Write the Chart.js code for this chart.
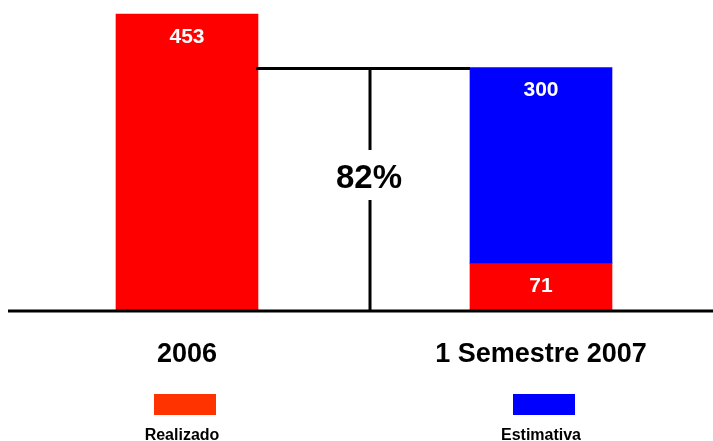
<!DOCTYPE html>
<html>
<head>
<meta charset="utf-8">
<script src="https://cdn.jsdelivr.net/npm/chart.js@4.4.1/dist/chart.umd.min.js"></script>
<style>
  body { margin: 0; background: #ffffff; }
  #chart { display: block; }
</style>
</head>
<body>
<canvas id="chart" width="713" height="441"></canvas>
<script>
// chart data
const categories = ['2006', '1 Semestre 2007'];
const seriesNames = ['Realizado', 'Estimativa'];
const realizado = [453, 71];
const estimativa = [null, 300];

const barColors = ['#ff0000', '#0000ff'];
const legendColors = ['#ff3300', '#0000ff'];
const fontFamily = '"Liberation Sans", Arial, sans-serif';

// total of the second period, compared with the first
const total2007 = realizado[1] + estimativa[1];
const pctText = Math.round(total2007 / realizado[0] * 100) + '%';

function toPoints(values) {
    return values.map((v, i) => ({ x: i, y: v }));
}

// Draws baseline, values, category names, the comparison bracket and legend
const decorPlugin = {
    id: 'decor',
    afterDatasetsDraw(chart) {
        const ctx = chart.ctx;
        const xs = chart.scales.x;
        const ys = chart.scales.y;
        const y0 = ys.getPixelForValue(0);

        ctx.save();

        // baseline
        ctx.strokeStyle = '#000000';
        ctx.lineWidth = 3;
        ctx.beginPath();
        ctx.moveTo(8, y0 + 1);
        ctx.lineTo(chart.width, y0 + 1);
        ctx.stroke();

        // value labels inside bars
        ctx.fillStyle = '#ffffff';
        ctx.font = 'bold 21px ' + fontFamily;
        ctx.textAlign = 'center';
        ctx.textBaseline = 'middle';
        chart.data.datasets.forEach((ds, di) => {
            const meta = chart.getDatasetMeta(di);
            meta.data.forEach((bar, i) => {
                const v = ds.data[i].y;
                if (v == null) return;
                ctx.fillText(String(v), bar.x, bar.y + 23);
            });
        });

        // category names
        ctx.fillStyle = '#000000';
        ctx.font = 'bold 27px ' + fontFamily;
        categories.forEach((c, i) => {
            ctx.fillText(c, xs.getPixelForValue(i), 355);
        });

        // comparison bracket
        const bar1 = chart.getDatasetMeta(0).data[0];
        const bar2 = chart.getDatasetMeta(0).data[1];
        const yTop = ys.getPixelForValue(total2007);
        const xLeft = bar1.x + bar1.width / 2 - 2;
        const xRight = bar2.x - bar2.width / 2;
        const xMid = xs.getPixelForValue(0.517);
        const textY = 179;
        ctx.lineWidth = 3;
        ctx.beginPath();
        ctx.moveTo(xLeft, yTop + 1);
        ctx.lineTo(xRight, yTop + 1);
        ctx.moveTo(xMid, yTop);
        ctx.lineTo(xMid, 150);
        ctx.moveTo(xMid, 200);
        ctx.lineTo(xMid, y0 + 1);
        ctx.stroke();

        ctx.font = 'bold 33px ' + fontFamily;
        ctx.fillText(pctText, xMid - 1, textY);

        // legend
        const legendX = [185, 544];
        ctx.font = 'bold 16px ' + fontFamily;
        ctx.textBaseline = 'alphabetic';
        seriesNames.forEach((name, i) => {
            ctx.fillStyle = legendColors[i];
            ctx.fillRect(legendX[i] - 31, 394, 62, 21);
            ctx.fillStyle = '#000000';
            ctx.fillText(name, legendX[i] - 3, 440);
        });

        ctx.restore();
    }
};

new Chart(document.getElementById('chart'), {
    type: 'bar',
    data: {
        datasets: [
            {
                label: seriesNames[0],
                data: toPoints(realizado),
                backgroundColor: barColors[0],
                borderWidth: 0,
                barThickness: 142
            },
            {
                label: seriesNames[1],
                data: toPoints(estimativa),
                backgroundColor: barColors[1],
                borderWidth: 0,
                barThickness: 142
            }
        ]
    },
    options: {
        responsive: false,
        animation: false,
        layout: {
            padding: { left: 8, right: 0, top: 0, bottom: 131 }
        },
        scales: {
            x: {
                type: 'linear',
                stacked: true,
                display: false,
                offset: false,
                grid: { offset: false },
                min: -0.5056,
                max: 1.4859
            },
            y: {
                stacked: true,
                display: false,
                min: 0,
                max: 474.4
            }
        },
        plugins: {
            legend: { display: false },
            tooltip: { enabled: false }
        }
    },
    plugins: [decorPlugin]
});
</script>
</body>
</html>
